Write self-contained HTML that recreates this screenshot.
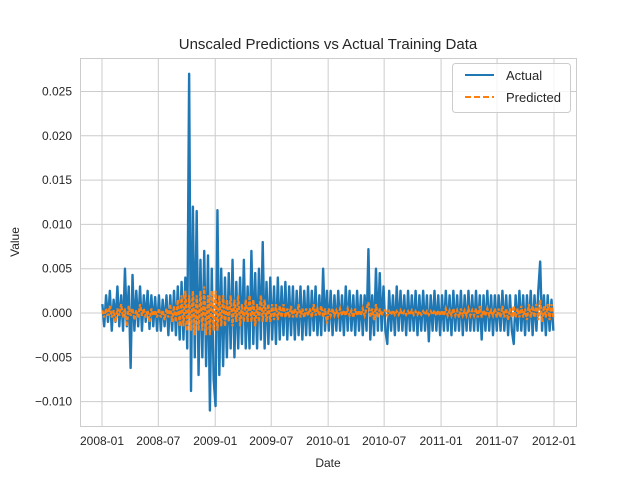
<!DOCTYPE html>
<html><head><meta charset="utf-8"><style>
body{margin:0;background:#fff}
svg text{font-family:"Liberation Sans","DejaVu Sans",sans-serif;fill:#262626}
</style></head><body>
<svg id="chart" width="640" height="480" viewBox="0 0 640 480">
<rect x="0" y="0" width="640" height="480" fill="#fff"/>
<g id="grid"></g>
<rect x="80.5" y="58.5" width="496" height="368" fill="none" stroke="#cccccc" stroke-width="1"/>
<g id="series"></g>
<text x="328" y="49" text-anchor="middle" font-size="15">Unscaled Predictions vs Actual Training Data</text>
<text x="328" y="467" text-anchor="middle" font-size="12">Date</text>
<text x="19" y="242" text-anchor="middle" font-size="12" transform="rotate(-90 19 242)">Value</text>
<g>
<rect x="452.5" y="63.5" width="118" height="49" rx="3" fill="#fff" fill-opacity="0.8" stroke="#cccccc"/>
<line x1="465" y1="75" x2="494" y2="75" stroke="#1f77b4" stroke-width="2"/>
<text x="506" y="80" font-size="13">Actual</text>
<line x1="465" y1="97" x2="494" y2="97" stroke="#ff7f0e" stroke-width="2" stroke-dasharray="6,3"/>
<text x="506" y="102" font-size="13">Predicted</text>
</g>
</svg>
<script>
const xTickLabels=["2008-01","2008-07","2009-01","2009-07","2010-01","2010-07","2011-01","2011-07","2012-01"];
const xTickDates=["2008-01-01","2008-07-01","2009-01-01","2009-07-01","2010-01-01","2010-07-01","2011-01-01","2011-07-01","2012-01-01"];
const yTickValues=[-0.010,-0.005,0.000,0.005,0.010,0.015,0.020,0.025];
const yTickLabels=["\u22120.010","\u22120.005","0.000","0.005","0.010","0.015","0.020","0.025"];
const startDate="2008-01-02";
const endDate="2011-12-30";
// values in thousandths
const actual=[1,-1.5,2,-1,2.5,-2,1.5,-1,3,-1.5,2,-2,5,-1.5,3,-6.2,4.3,-2,2.5,-1.5,3,-2,2,-1,2.5,-1.8,2,-1.5,1.8,-2,
2,-2,1.5,-1.5,2,-2.5,2,-2,2.5,-2.5,3,-3,3.5,-3,4,-4,27,-8.8,12,-5,11.5,-7,6,-5,7,-6,6.5,-11,5,-7.5,
-10.5,11.6,-7,5,-6,4,-5,4.5,-4,6,-5,3.5,-4,4,-3.5,6,-4,3,-4,7,-3.5,4.5,-4,5,-3,8,-4,3.5,-3.5,4,
-3,3,-3.5,4,-3,3,-2.5,3.5,-3,3,-2.5,3,-3,2.5,-2.5,3,-3,2.5,-2.5,3,-2.5,2.5,-2,3,-2.5,2,-2.5,5,-2,2.5,
-2,2.5,-2.5,2,-2,2.5,-2,2,-2.5,3,-2,2.5,-2,2,-2.5,2.5,-2,2,-2.5,2,-2,7.2,-3,2,-2.5,5,-2,4.5,-2,3,
-2,-3.5,2.5,-2,2,-2.5,3,-2,2.5,-2,2,-2.5,2.5,-2,2,-2,2.5,-2.5,2,-2,2.5,-2,2,-3.2,2,-2,2.5,-2,2,-2.5,
2,-2,2.5,-2,2,-2.5,2.5,-2,2,-2,2.5,-2.5,2,-2,2.5,-2,2,-2,2.5,-2,2,-3,2,-2,2.5,-2,2,-2.5,2,-2,
2,-2,2.5,-2,2,-2.5,2,-2,-3.5,2,-2,2.5,-2,2,-2.5,2,-2,2.5,-2.5,2,-2,2.5,5.8,-2,2,-2.5,2,-2,1.5,-2];
const predicted=[0.3,-0.5,0.5,-0.3,0.8,-0.5,0.3,-1,0.5,-0.3,1,-0.5,0.5,-1.5,0.8,-0.3,0.5,-0.8,0.3,-0.5,1,-0.3,0.5,-0.5,0.3,-1,0.5,-0.3,0.3,-0.5,
0.5,-0.5,0.3,-0.8,0.5,-0.5,1,-1,0.8,-1,1.5,-1.5,2,-1.5,2.5,-2,2,-2,2.5,-2.5,2,-2,2.5,-2,3,-2.5,2,-2.5,2.5,-2,
2.5,-2,2,-1.5,2,-1.5,1.5,-1,2,-1.5,1.5,-1,2,-1.5,1,-1,1.5,-1,2,-1,1.5,-1.5,1,-1,2,-1,1.5,-1,1,-1,
1,-0.8,1,-0.8,0.8,-0.5,1,-0.5,0.5,-0.5,0.8,-0.5,0.5,-0.5,1,-0.5,0.5,-0.5,0.5,-0.3,0.5,-0.5,1,-0.3,0.5,-0.3,0.8,-0.5,0.5,-1.2,
0.5,-0.3,0.5,-0.3,0.3,-0.3,0.5,-0.3,0.3,-0.3,0.5,-0.3,0.3,-0.5,0.5,-0.3,0.3,-0.3,0.5,-0.3,0.5,1.2,-0.5,0.5,-0.8,1,-0.5,0.5,-0.3,0.3,
0.3,-0.3,0.2,-0.2,0.3,-0.2,0.2,-0.2,0.3,-0.2,0.2,-0.2,0.2,-0.2,0.3,-0.2,0.2,-0.2,0.2,-0.2,0.2,-0.2,0.2,-0.2,0.2,-0.2,0.3,-0.3,0.3,-0.3,
0.3,-0.3,0.5,-0.3,0.3,-0.3,0.5,-0.3,0.3,-0.5,0.5,-0.3,0.3,-0.3,0.5,-0.3,0.3,-0.3,0.5,-0.5,0.8,-0.5,0.3,-0.3,0.5,-0.3,0.3,-0.3,0.5,-0.5,
0.5,-0.5,0.8,-0.5,0.5,-0.8,0.5,-0.5,0.8,-0.5,0.5,-0.5,0.8,-0.5,0.5,-0.8,1,-0.5,0.8,-0.5,1,-0.8,1.5,-1,0.8,-0.5,1,-0.8,1,-0.5];

const NS="http://www.w3.org/2000/svg";
const t0=Date.parse("2008-01-01"),t1=Date.parse("2012-01-01");
function xScale(t){return 102+(t-t0)/(t1-t0)*452;}
function yScale(v){return 313-v/0.005*44.3;}
const grid=document.getElementById('grid'),series=document.getElementById('series'),svg=document.getElementById('chart');
function mk(tag,attrs,parent){const e=document.createElementNS(NS,tag);for(const k in attrs)e.setAttribute(k,attrs[k]);parent.appendChild(e);return e;}
xTickDates.forEach((d,i)=>{const x=xScale(Date.parse(d));
 const l=mk('line',{x1:x,x2:x,y1:58,y2:426,stroke:'#cccccc','stroke-width':1},grid);
 
 
 const t=mk('text',{x:x,y:445,'text-anchor':'middle','font-size':12},svg);t.textContent=xTickLabels[i];
 
 
});
yTickValues.forEach((v,i)=>{const y=yScale(v);
 const l=mk('line',{x1:80,x2:576,y1:y,y2:y,stroke:'#cccccc','stroke-width':1},grid);
 
 
 const t=mk('text',{x:72,y:y+4,'text-anchor':'end','font-size':12},svg);t.textContent=yTickLabels[i];
 
 
});
const s0=Date.parse(startDate),s1=Date.parse(endDate);
function pts(arr){return arr.map((v,i)=>{const t=s0+(s1-s0)*i/(arr.length-1);return xScale(t).toFixed(2)+','+yScale(v/1000).toFixed(2);}).join(' ');}
const pa=mk('polyline',{points:pts(actual),fill:'none',stroke:'#1f77b4','stroke-width':2.4,'stroke-linejoin':'round'},series);


const pp=mk('polyline',{points:pts(predicted),fill:'none',stroke:'#ff7f0e','stroke-width':2.2,'stroke-dasharray':'4,1.5'},series);


</script>
</body></html>
